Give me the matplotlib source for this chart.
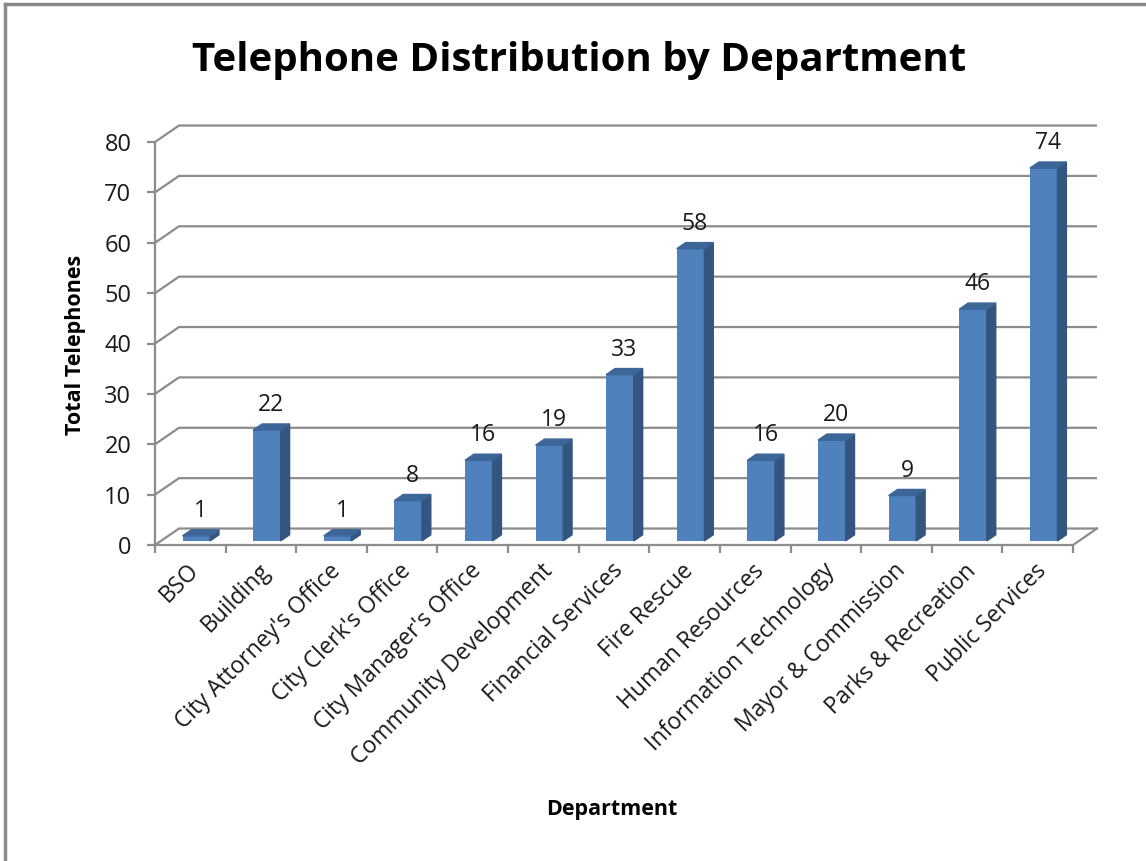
import numpy as np
import matplotlib
matplotlib.use("Agg")
import matplotlib.pyplot as plt
import matplotlib.transforms as mtransforms
from matplotlib.patches import Polygon
from matplotlib.lines import Line2D

# ---------------------------------------------------------------------------
# Data
# ---------------------------------------------------------------------------
departments = ["BSO", "Building", "City Attorney's Office", "City Clerk's Office",
               "City Manager's Office", "Community Development", "Financial Services",
               "Fire Rescue", "Human Resources", "Information Technology",
               "Mayor & Commission", "Parks & Recreation", "Public Services"]
telephones = [1, 22, 1, 8, 16, 19, 33, 58, 16, 20, 9, 46, 74]
y_ticks = [0, 10, 20, 30, 40, 50, 60, 70, 80]

title = "Telephone Distribution by Department"
x_label = "Department"
y_label = "Total Telephones"

# ---------------------------------------------------------------------------
# Style
# ---------------------------------------------------------------------------
plt.rcParams['font.family'] = ['Open Sans', 'DejaVu Sans']
FRONT = "#4f81bd"
SIDE = "#33557f"
TOP = "#3c6598"
GRID = "#8c8c8c"
TXT = "#1a1a1a"

# oblique depth vector (categories, values) and bar depth fractions
DX, DY = 0.34, 3.27
F0, F1 = 0.25, 0.62
BAR_W = 0.39

fig = plt.figure(figsize=(11.46, 8.61), dpi=100)
ax = fig.add_axes([155 / 1146, (861 - 545) / 861, 918 / 1146, 403 / 861])
n = len(departments)
ax.set_xlim(0, n)
ax.set_ylim(0, y_ticks[-1])

# walls: gridlines with the stub going back from the front axis
for v in y_ticks:
    ax.plot([0, DX, n + DX], [v, v + DY, v + DY], color=GRID, lw=1.6,
            clip_on=False, zorder=1, solid_capstyle='butt')
# floor front/right edges
ax.plot([0, n, n + DX], [0, 0, DY], color=GRID, lw=1.6, clip_on=False, zorder=1)

for s in ["top", "right", "bottom"]:
    ax.spines[s].set_visible(False)
ax.spines["left"].set_color(GRID)
ax.spines["left"].set_linewidth(1.6)

ax.set_yticks(y_ticks)
ax.tick_params(axis='y', direction='out', length=6, width=1.6, color=GRID,
               labelsize=17, labelcolor=TXT, pad=11)
ax.set_xticks(np.arange(n + 1))
ax.set_xticklabels([])
ax.tick_params(axis='x', which='major', direction='out', length=5.5, width=1.6, color=GRID)
centers = np.arange(n) + 0.5
ax.set_xticks(centers, minor=True)
ax.set_xticklabels(departments, minor=True, rotation=45, ha='right',
                   rotation_mode='anchor', fontsize=16.5, color=TXT)
ax.tick_params(axis='x', which='minor', length=0, pad=10)
shift = mtransforms.ScaledTranslation(-3 / 100, 0, fig.dpi_scale_trans)
for lbl in ax.get_xticklabels(minor=True):
    lbl.set_transform(lbl.get_transform() + shift)

# bars: front face + side + top
x0 = centers - BAR_W / 2 + F0 * DX
base = F0 * DY
ax.bar(x0, telephones, width=BAR_W, bottom=base, align='edge', color=FRONT,
       zorder=3, clip_on=False)
ddx, ddy = (F1 - F0) * DX, (F1 - F0) * DY
for xl, v in zip(x0, telephones):
    xr = xl + BAR_W
    side = Polygon([(xr, base), (xr, base + v), (xr + ddx, base + v + ddy),
                    (xr + ddx, base + ddy)], closed=True, color=SIDE, zorder=3,
                   clip_on=False)
    top = Polygon([(xl, base + v), (xr, base + v), (xr + ddx, base + v + ddy),
                   (xl + ddx, base + v + ddy)], closed=True, color=TOP, zorder=3,
                  clip_on=False)
    ax.add_patch(side)
    ax.add_patch(top)
    ax.annotate(str(v), (xl + (BAR_W + ddx) / 2, base + v + ddy), xytext=(0, 5),
                textcoords='offset points', ha='center', va='bottom',
                fontsize=16.5, color=TXT, annotation_clip=False)

fig.text(579 / 1146, 1 - 61 / 861, title, ha='center', va='center',
         fontsize=29, fontweight='bold')
fig.text(612 / 1146, 1 - 810 / 861, x_label, ha='center', va='center',
         fontsize=15.5, fontweight='bold')
fig.text(76 / 1146, 1 - 345 / 861, y_label, ha='center', va='center',
         fontsize=15.5, fontweight='bold', rotation=90)

# chart-area border (top and left visible)
fig.add_artist(Line2D([5 / 1146, 1], [1 - 4 / 861, 1 - 4 / 861],
                      transform=fig.transFigure, color="#8a8a8a", lw=2.5))
fig.add_artist(Line2D([5 / 1146, 5 / 1146], [0, 1 - 4 / 861],
                      transform=fig.transFigure, color="#8a8a8a", lw=2.5))

fig.savefig("out.png", dpi=100)
